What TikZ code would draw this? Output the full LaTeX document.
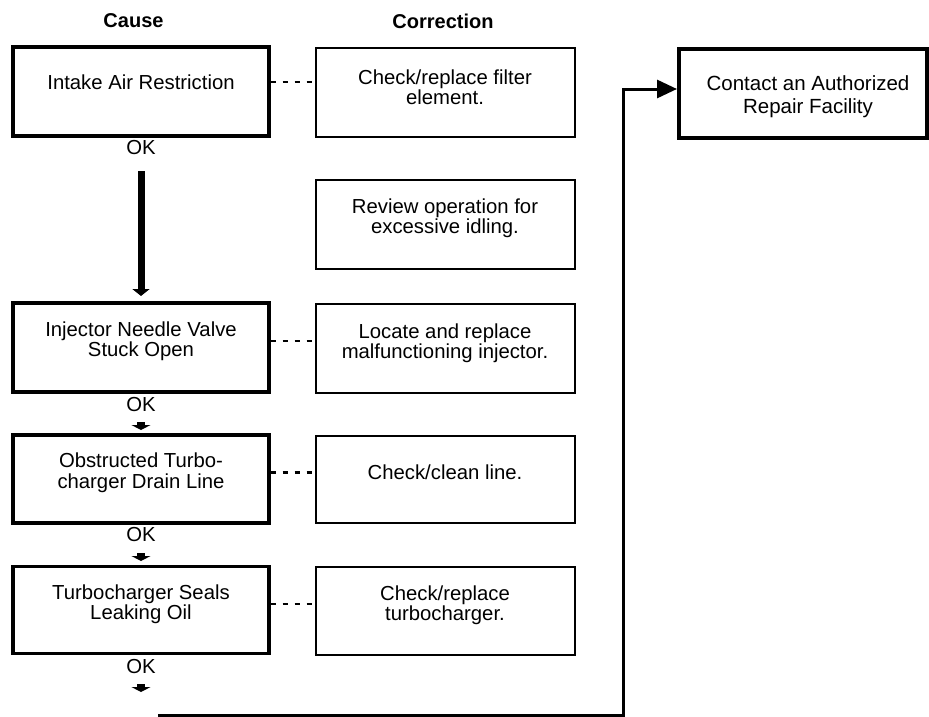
\documentclass[tikz,border=0pt]{standalone}
\usepackage{fontspec}
\setmainfont{Liberation Sans}
\usetikzlibrary{arrows.meta}
\begin{document}
\begin{tikzpicture}[x=1pt,y=-1pt,
  causebox/.style={draw, line width=3.4pt, minimum width=256pt, inner sep=0pt},
  corrbox/.style={draw, line width=2pt, minimum width=259pt, inner sep=0pt},
  contactbox/.style={draw, line width=4pt, minimum width=248pt, minimum height=89pt, inner sep=0pt},
  txt/.style={font=\fontsize{20.3}{20.5}\selectfont, align=center, inner sep=0pt},
  bigtxt/.style={font=\fontsize{20.5}{23}\selectfont, align=center, inner sep=0pt},
  head/.style={font=\fontsize{20}{24}\selectfont\bfseries, inner sep=0pt},
  dots/.style={line width=2.2pt, dash pattern=on 5pt off 7pt},
  okarrow/.style={line width=8pt, -{Triangle[width=19pt,length=5pt]}},
  mainarrow/.style={line width=7pt, -{Triangle[width=17pt,length=7pt]}},
  fbline/.style={line width=3pt, -{Triangle[width=18pt,length=20pt]}}]
\useasboundingbox (0,0) rectangle (929,717);

% headers
\node[head] (hcause) at (133.5,21) {Cause};
\node[head] (hcorr) at (443,21) {Correction};

% cause boxes
\node[causebox, minimum height=89pt] (c1) at (141,91.5) {};
\node[causebox, minimum height=89pt] (c2) at (141,347.5) {};
\node[causebox, minimum height=88pt] (c3) at (141,479) {};
\node[causebox, minimum height=87pt] (c4) at (141,610) {};

\node[txt] (t1) at (141,82) {Intake Air Restriction};
\node[txt] (t2) at (141,341) {Injector Needle Valve\\Stuck Open};
\node[txt] (t3) at (141,472.5) {Obstructed Turbo-\\charger Drain Line};
\node[txt] (t4) at (141,604) {Turbocharger Seals\\Leaking Oil};

% correction boxes
\node[corrbox, minimum height=89pt] (r1) at (445.5,92.5) {};
\node[corrbox, minimum height=89pt] (r2) at (445.5,224.5) {};
\node[corrbox, minimum height=89pt] (r3) at (445.5,348.5) {};
\node[corrbox, minimum height=87pt] (r4) at (445.5,479.5) {};
\node[corrbox, minimum height=88pt] (r5) at (445.5,611) {};

\node[txt] (s1) at (445,87) {Check/replace filter\\element.};
\node[txt] (s2) at (445,218) {Review operation for\\excessive idling.};
\node[txt] (s3) at (445,343) {Locate and replace\\malfunctioning injector.};
\node[txt] (s4) at (445,472) {Check/clean line.};
\node[txt] (s5) at (445,605) {Check/replace\\turbocharger.};

% contact box
\node[contactbox] (contact) at (803,93.5) {};
\node[bigtxt] (ct) at (808,96.5) {Contact an Authorized\\Repair Facility};

% dotted links
\draw[dots] (c1.east |- t1) -- (r1.west |- t1);
\draw[dots] (c2.east |- t2) -- (r3.west |- t2);
\draw[dots] (c3.east |- t3) -- (r4.west |- t3);
\draw[dots] (c4.east |- t4) -- (r5.west |- t4);

% OK labels
\node[txt] (ok1) at (141,148) {OK};
\node[txt] (ok2) at (141,405) {OK};
\node[txt] (ok3) at (141,535) {OK};
\node[txt] (ok4) at (141,667) {OK};

% arrows
\coordinate (a1s) at (141,171);
\coordinate (a1e) at (141,296);
\draw[mainarrow] (a1s) -- (a1e);
\coordinate (a2s) at (141,422);
\coordinate (a2e) at (141,430);
\draw[okarrow] (a2s) -- (a2e);
\coordinate (a3s) at (141,553);
\coordinate (a3e) at (141,561);
\draw[okarrow] (a3s) -- (a3e);
\coordinate (a4s) at (141,684);
\coordinate (a4e) at (141,692);
\draw[okarrow] (a4s) -- (a4e);

% feedback line
\coordinate (fb0) at (158,715);
\coordinate (fb1) at (623,715);
\coordinate (fb2) at (623,89);
\draw[fbline] (fb0) -- (fb1) -- (fb2) -- (contact.west |- fb2);
\end{tikzpicture}
\end{document}
